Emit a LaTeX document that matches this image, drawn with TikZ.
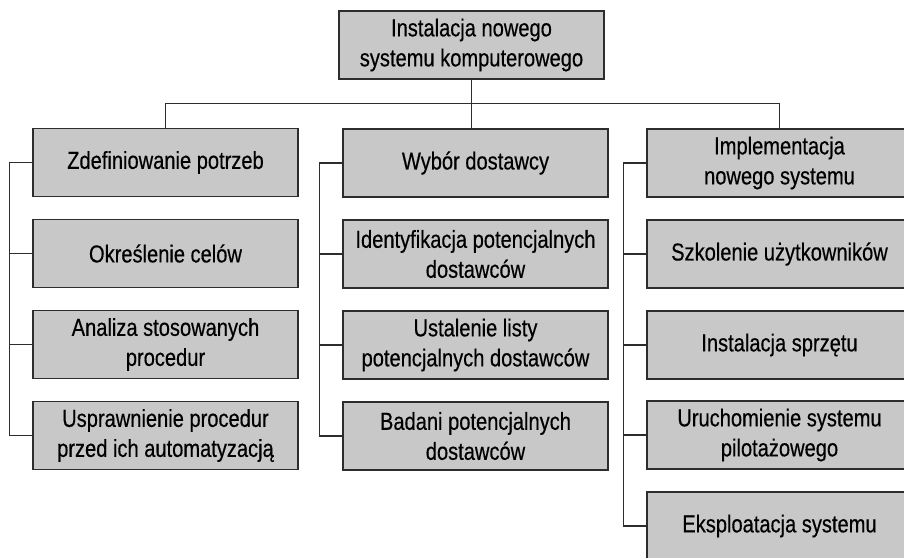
\documentclass[tikz,border=0pt]{standalone}
\usepackage{fontspec}
\usetikzlibrary{calc}
\setmainfont{Liberation Sans}[FakeStretch=0.82,FakeBold=0.4]
\definecolor{boxgray}{RGB}{200,200,200}
\definecolor{edgegray}{RGB}{45,45,45}
\begin{document}
\begin{tikzpicture}[x=1pt,y=-1pt,
  task/.style={draw=edgegray, line width=1.3pt, fill=boxgray,
    minimum width=265pt, minimum height=68pt, inner sep=0pt,
    align=center, font=\fontsize{24.5}{30}\selectfont},
  link/.style={draw=edgegray, line width=1.1pt}]
\useasboundingbox (0,0) rectangle (904,557);
\clip (0,0) rectangle (904,557);

% root
\node[task] (top) at (471.5,45) {Instalacja nowego\\systemu komputerowego};

% column 1
\node[task] (c1a) at (165.5,162.5) {Zdefiniowanie potrzeb};
\node[task] (c1b) at (165.5,253.5) {Określenie celów};
\node[task] (c1c) at (165.5,344.5) {Analiza stosowanych\\procedur};
\node[task] (c1d) at (165.5,435.5) {Usprawnienie procedur\\przed ich automatyzacją};

% column 2
\node[task] (c2a) at (475.5,163) {Wybór dostawcy};
\node[task] (c2b) at (475.5,254) {Identyfikacja potencjalnych\\dostawców};
\node[task] (c2c) at (475.5,345) {Ustalenie listy\\potencjalnych dostawców};
\node[task] (c2d) at (475.5,436) {Badani potencjalnych\\dostawców};

% column 3
\node[task] (c3a) at (779.5,163) {Implementacja\\nowego systemu};
\node[task] (c3b) at (779.5,254) {Szkolenie użytkowników};
\node[task] (c3c) at (779.5,345) {Instalacja sprzętu};
\node[task] (c3d) at (779.5,435) {Uruchomienie systemu\\pilotażowego};
\node[task] (c3e) at (779.5,526) {Eksploatacja systemu};

% root to the three branches
\draw[link] (top.south) -- (top.south |- c2a.north);
\coordinate (hub) at ($(top.south)+(0,24)$);
\draw[link] (c1a.north) |- (hub) -| (c3a.north);

% brackets on the left of each column
\foreach \col/\last in {c1/d, c2/d, c3/e}{
  \draw[link] (\col a.west) -- ++(-23,0) |- (\col\last.west);
}
\foreach \b in {c1b,c1c,c2b,c2c,c3b,c3c,c3d}{
  \draw[link] (\b.west) -- ++(-23,0);
}
\end{tikzpicture}
\end{document}
